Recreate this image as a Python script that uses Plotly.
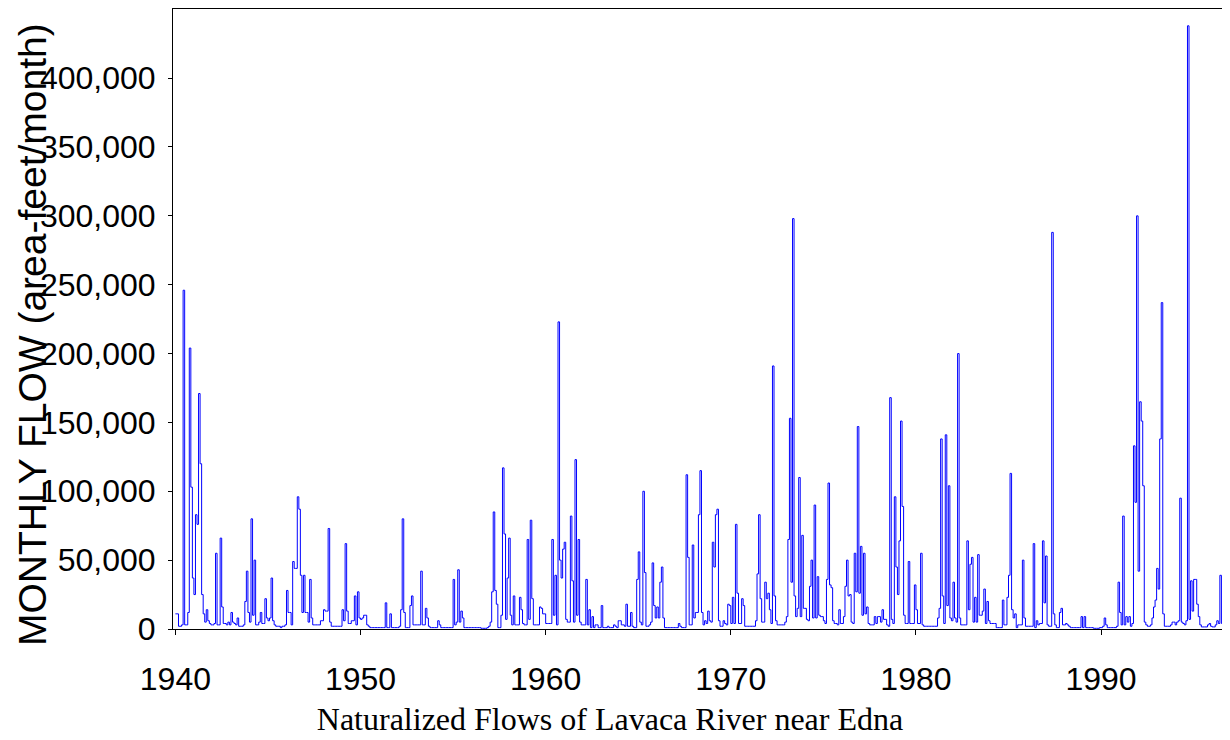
import plotly.graph_objects as go

# Monthly naturalized flows, thousands of acre-feet per month, Jan..Dec per year
flow_1940s = [
    11, 11, 2, 2, 3, 246, 3, 3, 12, 204, 103, 37,
    25, 83, 76, 171, 120, 25, 11, 5, 14, 6, 4, 3,
    3, 4, 55, 3, 3, 66, 16, 4, 4, 3, 5, 3,
    12, 5, 4, 3, 8, 2, 2, 2, 3, 20, 42, 12,
    5, 80, 10, 50, 3, 3, 5, 12, 4, 4, 22, 8,
    6, 8, 37, 6, 3, 2, 2, 2, 1, 2, 2, 3,
    28, 12, 12, 3, 49, 44, 44, 96, 87, 39, 12, 39,
    12, 12, 5, 36, 8, 3, 3, 3, 3, 3, 6, 6,
    14, 13, 13, 73, 5, 2, 2, 2, 2, 2, 2, 2,
    14, 6, 62, 13, 4, 4, 6, 6, 24, 3, 27, 8,
]
flow_1950s = [
    7, 8, 10, 10, 3, 2, 1, 1, 1, 1, 1, 1,
    1, 1, 1, 1, 19, 1, 1, 11, 1, 1, 1, 1,
    1, 2, 14, 80, 12, 1, 1, 1, 17, 24, 3, 3,
    3, 3, 3, 42, 3, 3, 15, 8, 2, 1, 1, 1,
    1, 1, 6, 3, 1, 1, 1, 1, 1, 1, 1, 1,
    36, 3, 5, 43, 5, 13, 8, 1, 1, 1, 1, 1,
    1, 1, 1, 1, 1, 1, 0.5, 0.5, 0.5, 0.5, 1, 2,
    5, 27, 85, 28, 18, 1, 1, 10, 117, 69, 7, 37,
    66, 10, 3, 24, 3, 3, 3, 23, 14, 4, 3, 3,
    65, 7, 79, 22, 3, 3, 3, 3, 16, 15, 11, 11,
]
flow_1960s = [
    4, 4, 4, 4, 65, 10, 39, 3, 223, 50, 37, 58,
    63, 7, 5, 5, 82, 35, 5, 123, 10, 65, 5, 3,
    3, 3, 36, 3, 14, 1, 9, 1, 3, 3, 1, 1,
    17, 1, 1, 1, 2, 1, 1, 1, 3, 2, 1, 6,
    6, 3, 3, 2, 18, 2, 2, 12, 2, 1, 1, 36,
    56, 5, 3, 100, 41, 2, 2, 3, 5, 48, 17, 8,
    16, 8, 34, 45, 8, 1, 1, 1, 1, 1, 1, 1,
    1, 1, 4, 2, 1, 1, 1, 112, 52, 3, 3, 61,
    8, 12, 12, 83, 115, 12, 3, 6, 4, 13, 6, 5,
    63, 45, 83, 87, 6, 2, 2, 6, 4, 3, 18, 17,
]
flow_1970s = [
    4, 23, 4, 76, 26, 4, 4, 22, 17, 2, 2, 2,
    2, 2, 2, 2, 6, 40, 83, 22, 5, 5, 34, 22,
    26, 14, 4, 191, 24, 6, 3, 3, 3, 3, 3, 5,
    9, 65, 153, 34, 298, 24, 9, 15, 110, 9, 68, 15,
    15, 7, 6, 31, 50, 8, 90, 8, 38, 10, 9, 9,
    6, 4, 36, 106, 32, 30, 6, 4, 4, 3, 14, 4,
    4, 9, 31, 50, 24, 25, 5, 4, 55, 27, 147, 26,
    60, 10, 55, 11, 16, 4, 3, 3, 3, 9, 4, 9,
    9, 5, 14, 7, 7, 3, 2, 168, 7, 4, 96, 45,
    25, 64, 151, 89, 10, 4, 4, 49, 4, 4, 4, 32,
]
flow_1980s = [
    14, 4, 4, 55, 3, 2, 2, 2, 2, 2, 2, 2,
    2, 2, 8, 15, 138, 24, 4, 141, 17, 104, 8, 6,
    34, 8, 5, 200, 8, 3, 3, 3, 3, 64, 14, 47,
    52, 5, 23, 5, 54, 10, 10, 13, 29, 4, 20, 6,
    4, 4, 4, 4, 1, 1, 1, 1, 21, 3, 3, 23,
    39, 113, 14, 8, 11, 1, 3, 3, 3, 50, 8, 2,
    2, 2, 2, 2, 62, 1, 6, 3, 4, 4, 64, 19,
    53, 3, 2, 2, 288, 11, 3, 1, 1, 12, 15, 3,
    3, 4, 3, 2, 1, 1, 1, 1, 1, 1, 1, 9,
    1, 9, 1, 1, 1, 1, 1, 0.5, 0.5, 0.5, 0.5, 1,
]
flow_1990s = [
    1, 2, 8, 3, 1, 1, 1, 1, 1, 1, 2, 34,
    12, 3, 82, 3, 9, 5, 9, 2, 4, 133, 92, 300,
    42, 165, 151, 104, 5, 3, 2, 2, 3, 8, 16, 21,
    44, 29, 138, 237, 11, 2, 2, 2, 2, 3, 5, 5,
    3, 5, 6, 95, 5, 4, 3, 6, 438, 7, 35, 13,
    36, 36, 18, 9, 3, 1.5, 1.5, 1.5, 1.5, 3, 4, 2,
    1.5, 1.5, 3, 6, 4, 39, 4, 3, 2, 3, 3, 3,
]
start_year = 1940
x_ticks = [1940, 1950, 1960, 1970, 1980, 1990]
y_ticks = [0, 50000, 100000, 150000, 200000, 250000, 300000, 350000, 400000]
y_tick_text = ["0", "50,000", "100,000", "150,000", "200,000", "250,000",
               "300,000", "350,000", "400,000"]

flows_k = flow_1940s + flow_1950s + flow_1960s + flow_1970s + flow_1980s + flow_1990s
flows = [v * 1000 for v in flows_k]
years = [start_year + i / 12 for i in range(len(flows))]

tick_font = dict(family="Liberation Sans, Arial, sans-serif", size=32, color="black")

# The page body adds an 8px offset, so the figure is 8px smaller than the window.
FIG_W, FIG_H = 1222, 732
M_L, M_R, M_T, M_B = 165, 1, 1, 111
plot_w = FIG_W - M_L - M_R
plot_h = FIG_H - M_T - M_B

fig = go.Figure()
fig.add_trace(go.Scatter(
    x=years, y=flows, mode="lines",
    line=dict(color="#0000FF", width=1, shape="hv"),
    showlegend=False, hoverinfo="x+y",
))

fig.update_layout(
    width=FIG_W, height=FIG_H,
    paper_bgcolor="white", plot_bgcolor="white",
    margin=dict(l=M_L, r=M_R, t=M_T, b=M_B, autoexpand=False),
    title=dict(
        text="Naturalized Flows of Lavaca River near Edna",
        font=dict(family="Liberation Serif, Times New Roman, serif", size=32, color="black"),
        x=602 / FIG_W, xref="container", xanchor="center",
        y=1 - 711 / FIG_H, yref="container", yanchor="middle",
    ),
)
fig.update_xaxes(
    range=[1939.87, 1996.91],
    tickmode="array", tickvals=x_ticks, ticktext=[str(t) for t in x_ticks],
    ticks="outside", ticklen=5, tickcolor="black", tickwidth=1,
    tickfont=tick_font, ticklabelstandoff=17,
    showline=True, linecolor="black", linewidth=1, mirror=True,
    showgrid=False, zeroline=False,
)
fig.update_yaxes(
    range=[0, 450200],
    tickmode="array", tickvals=y_ticks, ticktext=y_tick_text,
    ticks="outside", ticklen=4, tickcolor="black", tickwidth=1,
    tickfont=tick_font, ticklabelstandoff=6,
    showline=True, linecolor="black", linewidth=1, mirror=True,
    showgrid=False, zeroline=False,
)
fig.add_annotation(
    text="MONTHLY FLOW (area-feet/month)",
    xref="paper", yref="paper",
    x=(24 - M_L) / plot_w, y=(FIG_H - M_B - 327) / plot_h,
    xanchor="center", yanchor="middle",
    textangle=-90, showarrow=False,
    font=dict(family="Liberation Sans, Arial, sans-serif", size=39, color="black"),
)

fig.write_html("out.html")
